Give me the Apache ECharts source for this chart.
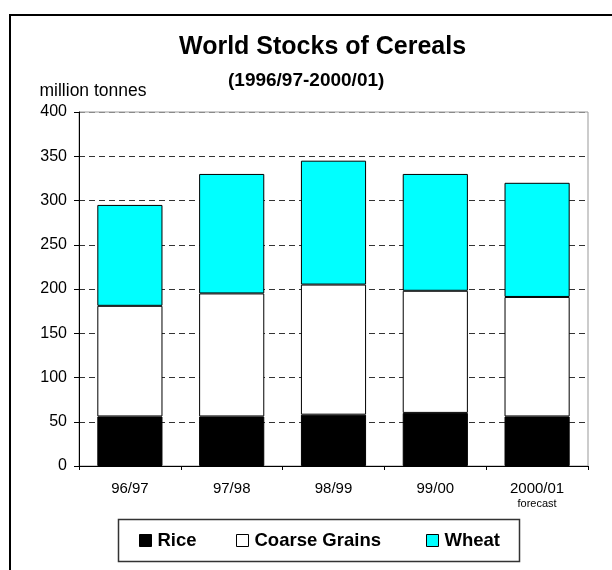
<!DOCTYPE html>
<html><head><meta charset="utf-8">
<script src="https://cdn.jsdelivr.net/npm/echarts@6/dist/echarts.min.js"></script>
<style>html,body{margin:0;padding:0;background:#fff}#c{width:612px;height:570px}</style>
</head><body><div id="c"></div>
<script>
const chartTitle = 'World Stocks of Cereals';
const chartSubtitle = '(1996/97-2000/01)';
const yAxisName = 'million tonnes';
const categories = ['96/97', '97/98', '98/99', '99/00', '2000/01'];
const categoryNotes = ['', '', '', '', 'forecast'];
const seriesNames = ['Rice', 'Coarse Grains', 'Wheat'];
const rice = [56, 56, 58, 60, 56];
const coarseGrains = [125, 139, 147, 138, 135];
const wheat = [114, 135, 140, 132, 129];
const yMin = 0, yMax = 400, yInterval = 50;

const FONT = 'Liberation Sans, Arial, sans-serif';
const colors = ['#000000', '#ffffff', '#00ffff'];
const seriesData = [rice, coarseGrains, wheat];

const chart = echarts.init(document.getElementById('c'), null, {renderer: 'canvas'});
const splitColors = [];
for (let v = yMin; v <= yMax; v += yInterval) splitColors.push(v === yMax ? '#8a8a8a' : '#333333');

chart.setOption({
  backgroundColor: '#ffffff',
  animation: false,
  textStyle: {fontFamily: FONT},
  title: [
    {text: chartTitle, left: 179, top: 35, padding: 0,
     textStyle: {fontFamily: FONT, fontSize: 25, fontWeight: 'bold', color: '#000'}},
    {text: chartSubtitle, left: 228, top: 71, padding: 0,
     textStyle: {fontFamily: FONT, fontSize: 19, fontWeight: 'bold', color: '#000'}}
  ],
  legend: seriesNames.map((n, i) => ({
    data: [n],
    left: [139, 236, 426][i],
    top: 531,
    padding: 0,
    icon: 'rect',
    itemWidth: 12,
    itemHeight: 12,
    itemStyle: {borderColor: '#000', borderWidth: 1},
    textStyle: {fontFamily: FONT, fontSize: 18.5, fontWeight: 'bold', color: '#000', padding: [0, 0, 0, 1]}
  })),
  graphic: [
    {type: 'rect', silent: true, z: -1,
     shape: {x: 10, y: 15, width: 800, height: 800},
     style: {fill: 'none', stroke: '#000', lineWidth: 2}},
    {type: 'rect', silent: true,
     shape: {x: 118.5, y: 519.5, width: 401, height: 42},
     style: {fill: 'none', stroke: '#333', lineWidth: 1.5}}
  ],
  grid: {left: 79, right: 24, top: 112, bottom: 104, show: true,
         borderColor: '#999', borderWidth: 1, backgroundColor: 'transparent'},
  xAxis: {
    type: 'category',
    data: categories,
    axisLine: {lineStyle: {color: '#000', width: 1}},
    axisTick: {show: true, length: 4, lineStyle: {color: '#000'}},
    axisLabel: {
      color: '#000', fontFamily: FONT, fontSize: 15, margin: 14, lineHeight: 17,
      formatter: (v) => {
        const i = categories.indexOf(v);
        return categoryNotes[i] ? v + '\n{f|' + categoryNotes[i] + '}' : v;
      },
      rich: {f: {fontFamily: FONT, fontSize: 11, lineHeight: 13, color: '#000'}}
    },
    splitLine: {show: false}
  },
  yAxis: {
    type: 'value',
    min: yMin, max: yMax, interval: yInterval,
    name: yAxisName,
    nameLocation: 'end',
    nameGap: 12,
    nameTextStyle: {fontFamily: FONT, fontSize: 17.5, color: '#000', padding: [0, 0, 0, 28]},
    axisLine: {show: true, lineStyle: {color: '#000', width: 1}},
    axisTick: {show: true, length: 5, lineStyle: {color: '#000'}},
    axisLabel: {color: '#000', fontFamily: FONT, fontSize: 16, margin: 12},
    splitLine: {show: true, lineStyle: {color: splitColors, width: 1, type: [6, 4]}}
  },
  series: seriesNames.map((n, i) => ({
    name: n,
    type: 'bar',
    stack: 'total',
    data: seriesData[i],
    barCategoryGap: '36%',
    itemStyle: {color: colors[i], borderColor: '#000', borderWidth: 1},
    emphasis: {disabled: true}
  }))
});
</script>
</body></html>
